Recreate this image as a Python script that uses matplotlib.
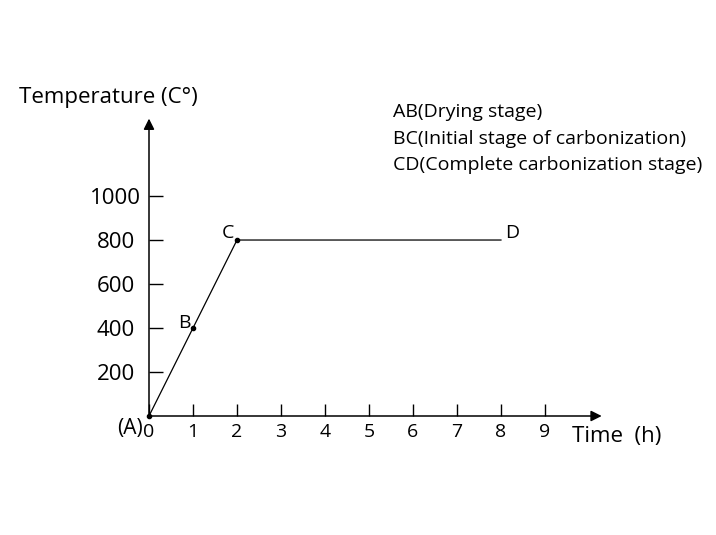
import matplotlib.pyplot as plt

plt.rcParams['font.family'] = ['Open Sans', 'DejaVu Sans']

# process curve A -> B -> C -> D
time_h = [0, 1, 2, 8]
temp_c = [0, 400, 800, 800]
point_names = ['(A)', 'B', 'C', 'D']

x_ticks = list(range(0, 10))
y_ticks = [200, 400, 600, 800, 1000]

stages = ['AB(Drying stage)',
          'BC(Initial stage of carbonization)',
          'CD(Complete carbonization stage)']

fig = plt.figure(figsize=(7.16, 5.35), dpi=100)
ax = fig.add_axes([149 / 716, 119 / 535, 452.7 / 716, 297.4 / 535])
ax.set_xlim(0, 10.29)
ax.set_ylim(0, 1352)

for s in ax.spines.values():
    s.set_visible(False)

# axes drawn as arrows
arrow = dict(arrowstyle='-|>', color='black', lw=1.1, mutation_scale=16,
             shrinkA=0, shrinkB=0)
ax.annotate('', xy=(1, 0), xytext=(0, 0), xycoords='axes fraction', arrowprops=arrow)
ax.annotate('', xy=(0, 1), xytext=(0, 0), xycoords='axes fraction', arrowprops=arrow)

ax.plot(time_h, temp_c, color='black', lw=0.9, clip_on=False)
ax.plot(time_h[:3], temp_c[:3], 'o', color='black', ms=3, clip_on=False)

ax.set_xticks(x_ticks)
ax.set_xticklabels([str(v) for v in x_ticks], fontsize=14)
ax.set_yticks(y_ticks)
ax.set_yticklabels([str(v) for v in y_ticks], fontsize=16, ha='center')
ax.tick_params(axis='x', direction='in', length=9, width=1.0, pad=5)
ax.tick_params(axis='y', direction='in', length=10, width=1.0, pad=24)

# point labels
ax.text(-0.43, -58, point_names[0], fontsize=15, ha='center', va='center')
ax.text(0.8, 425, point_names[1], fontsize=14, ha='center', va='center')
ax.text(1.8, 832, point_names[2], fontsize=14, ha='center', va='center')
ax.text(8.25, 830, point_names[3], fontsize=14, ha='center', va='center')

# axis titles
ax.text(-0.287, 1.051, 'Temperature (C°)', transform=ax.transAxes,
        fontsize=16, ha='left', va='baseline')
ax.text(0.934, -0.088, 'Time  (h)', transform=ax.transAxes,
        fontsize=16, ha='left', va='baseline')

# stage notes
for i, s in enumerate(stages):
    ax.text(5.545, 1358 - i * 120, s, fontsize=14, ha='left', va='baseline')

fig.savefig('out.png', dpi=100)
